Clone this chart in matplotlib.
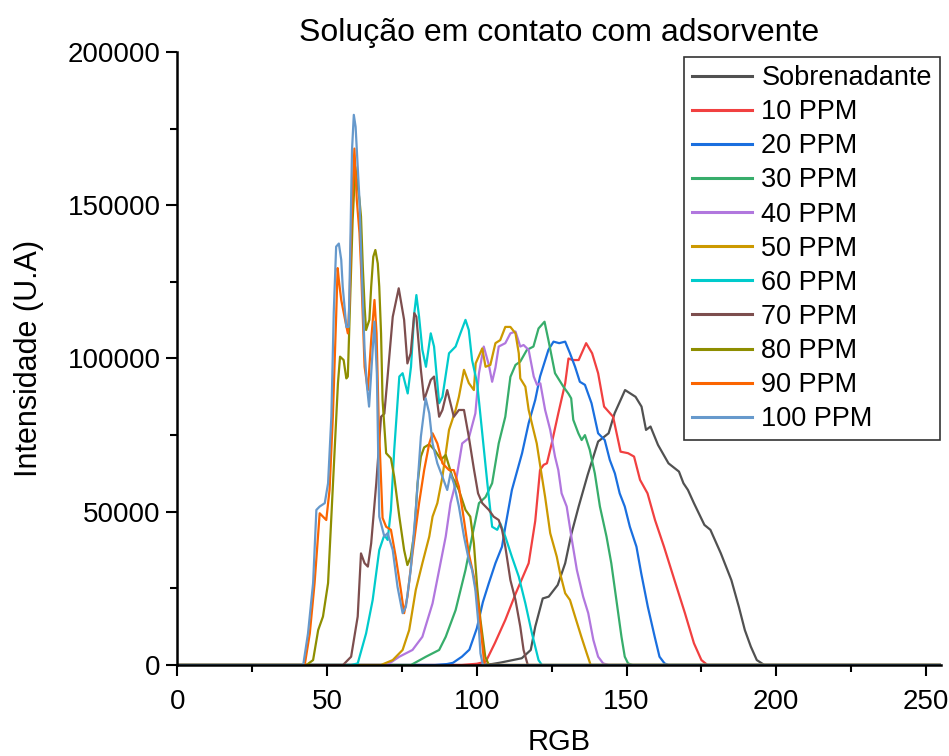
import matplotlib.pyplot as plt
from matplotlib.ticker import MultipleLocator

plt.rcParams['font.family'] = ['Liberation Sans', 'DejaVu Sans']

labels = ['Sobrenadante', '10 PPM', '20 PPM', '30 PPM', '40 PPM', '50 PPM',
          '60 PPM', '70 PPM', '80 PPM', '90 PPM', '100 PPM']
colors = ['#515151', '#F14040', '#1A6FDF', '#37AD6B', '#B177DE', '#CC9900',
          '#00CBCC', '#7D4E4E', '#8E8E00', '#FB6501', '#6699CC']

# RGB value vs intensity
sobre_x = [0, 100, 105, 108, 115, 118, 119.5, 122, 124, 127, 129.5, 131.5, 134, 137, 140.5, 144, 146, 149.5,
           153, 155, 156.5, 158, 160.5, 164, 167.5, 169, 170.5, 172.5, 176, 178, 181.5, 185, 187.5, 189.5,
           191.5, 193.5, 196, 255]
sobre_y = [0, 0, 300, 800, 2200, 4900, 12500, 21700, 22300, 26100, 33200, 42500, 51700, 62000, 72900, 75600,
           82100, 89700, 87500, 84300, 76700, 77800, 71800, 65800, 63100, 59300, 57100, 52800, 45700, 44100,
           36400, 27700, 19000, 11400, 6000, 1600, 0, 0]

p10_x = [0, 95, 100, 103, 106, 109.5, 113, 117.3, 119.5, 121.1, 122.3, 123.4, 125, 127.2, 129.5, 130.6, 132,
         134, 136.5, 138.5, 140.5, 142.5, 145.5, 148, 150.5, 152.5, 154.5, 157, 159.5, 162.5, 166, 169.5,
         172.5, 175, 177, 255]
p10_y = [0, 0, 400, 1100, 7100, 14700, 23400, 33200, 47000, 63600, 65300, 65800, 72300, 82100, 91900, 100000,
         99500, 99500, 105000, 101700, 95200, 84300, 81000, 69600, 69100, 68000, 60400, 56000, 47300, 38600,
         27700, 16900, 7100, 1600, 0, 0]

p20_x = [0, 86, 90, 92, 95, 97.5, 100, 102, 104, 106.2, 108.4, 109.5, 111.7, 115.1, 117.3, 119.5, 121.1,
         123.9, 125.6, 127.5, 129.5, 131.1, 132.8, 134.4, 136.1, 138.3, 140.5, 142.7, 144.4, 146.1, 147.7,
         149.4, 151.1, 153.3, 154.9, 157.1, 159.4, 161, 162.7, 164, 255]
p20_y = [0, 0, 300, 700, 2700, 5000, 12000, 20500, 26700, 33200, 38600, 45100, 57100, 69100, 78900, 86500,
         94100, 102800, 105500, 105000, 105500, 101700, 97300, 92400, 91400, 85400, 75600, 73400, 66900,
         62500, 56000, 51700, 45100, 38600, 29900, 19000, 9200, 2700, 500, 0, 0]

p30_x = [0, 78, 83, 87.4, 89.6, 92.9, 96.2, 98.4, 100.7, 102.9, 105.1, 107.3, 109.5, 111.2, 112.9, 114.5,
         116.7, 118.9, 120.6, 122.6, 123.9, 126.1, 128.9, 130.6, 131.5, 132.2, 133.9, 135, 136.1, 137.7,
         139.4, 141.1, 143.3, 144.9, 146.6, 148.3, 149.4, 150.5, 152, 255]
p30_y = [0, 0, 2700, 4900, 9200, 17900, 31000, 41900, 52800, 54800, 59300, 72300, 81000, 94000, 97900, 99000,
         102800, 103900, 109800, 112000, 106000, 95200, 90800, 88500, 87000, 80000, 75600, 73400, 75000,
         70200, 62500, 51700, 41900, 33200, 21200, 9200, 2700, 500, 0, 0]

p40_x = [0, 70, 74.1, 78.5, 81.8, 85.2, 87.4, 89.6, 91.2, 92.9, 95.1, 97.3, 99.5, 100.7, 102.3, 104, 105.1,
         106.2, 107.3, 109.5, 111.2, 112.9, 114.5, 115.6, 117.3, 119, 120.1, 121.2, 122.8, 124.5, 126.1,
         127.2, 128.3, 130, 131.7, 133.4, 135.5, 137.2, 138.9, 140.5, 142.2, 144, 255]
p40_y = [0, 0, 2700, 4900, 9200, 20100, 31000, 41900, 52800, 59300, 72300, 74000, 82100, 95200, 103900,
         97900, 92400, 97000, 103900, 105000, 108200, 108800, 103900, 104400, 102800, 94100, 91400, 91900,
         83200, 76700, 68000, 63600, 56000, 51700, 41000, 31000, 22300, 16900, 8200, 2700, 500, 0, 0]

p50_x = [0, 68, 71.9, 75.2, 77.4, 79.6, 81.8, 84.1, 85.2, 86.8, 88.5, 90.7, 92.9, 94, 95.7, 97.3, 99, 99.6,
         101.8, 102.9, 104.5, 106.2, 107.8, 109.5, 111.2, 112.9, 114, 114.5, 116.2, 117.3, 118.9, 120,
         121.2, 122.8, 124.5, 126.7, 127.8, 129.5, 131.1, 132.8, 134.9, 136.7, 138, 255]
p50_y = [0, 0, 1600, 4900, 11400, 24500, 33200, 41900, 48400, 52800, 61400, 76700, 83200, 87500, 96300,
         92000, 89700, 98400, 103300, 97300, 97900, 105000, 106000, 110300, 110300, 108200, 101700, 93500,
         90800, 83200, 76700, 72300, 64700, 54800, 43000, 35300, 29900, 23400, 21200, 15800, 9200, 3800, 0, 0]

p60_x = [0, 58, 60.2, 63, 65.2, 67.4, 69.1, 70.2, 71.3, 72.4, 74.1, 75.2, 76.9, 78, 79.1, 79.8, 80.7, 81.8,
         83, 84.6, 85.7, 87.4, 88.5, 90.7, 91.8, 92.9, 94.5, 96.2, 97.3, 98.4, 100.1, 101.8, 103.5, 105.1,
         106.8, 107.8, 109.5, 111.7, 114, 116.2, 118.4, 120.6, 121.7, 255]
p60_y = [0, 0, 500, 10300, 21200, 37500, 42400, 40800, 50600, 70200, 94100, 95200, 88600, 97300, 114800,
         120700, 113600, 102800, 97300, 108200, 103900, 85400, 87500, 101700, 102800, 103900, 108200,
         112600, 109300, 99500, 91900, 75600, 59300, 45100, 44100, 46200, 41900, 35300, 28800, 20100,
         10300, 1600, 0, 0]

p70_x = [0, 55.3, 58, 60.2, 61.3, 62.5, 63.6, 64.7, 66.4, 68, 69.1, 70, 71.9, 73.9, 75.7, 76.8, 77.9, 79.1,
         79.8, 81.3, 82.4, 84.6, 85.7, 87.4, 88.5, 90.1, 92.3, 94, 95.7, 97.3, 99, 100.4, 101.8, 104, 105.6,
         107.3, 108.4, 109.5, 111.2, 112.9, 114.5, 115.6, 117, 255]
p70_y = [0, 0, 2700, 15800, 36400, 33200, 32100, 39700, 59300, 81000, 82000, 92000, 113600, 122900, 112600,
         98400, 101700, 114800, 113600, 96300, 86500, 93000, 94100, 81000, 83200, 89700, 81000, 83200,
         83200, 74500, 64000, 56000, 52800, 50600, 48400, 47300, 44100, 38600, 27700, 21200, 12500, 4900,
         0, 0]

p80_x = [0, 43.1, 45.3, 47, 48.6, 50.3, 51.4, 52.5, 53.6, 54.3, 55.5, 56.4, 56.9, 57.5, 58.5, 59.4, 60.8,
         61.3, 61.9, 62.5, 63, 64.1, 64.7, 65.4, 66.1, 66.9, 67.4, 68, 68.5, 69.7, 71.3, 72.4, 74.1, 75.7,
         76.8, 77.9, 79.1, 80.2, 81.3, 82.4, 84.1, 86, 88, 89.6, 91.8, 94, 96.2, 97.8, 99, 100.1, 101.2,
         102.8, 104, 255]
p80_y = [0, 0, 1600, 11400, 15800, 26700, 48400, 70200, 91900, 100600, 99500, 93500, 94100, 113600, 145000,
         162500, 151700, 146300, 130000, 116900, 109300, 112600, 123400, 133200, 135400, 131000, 123400,
         108200, 86500, 69100, 67400, 61400, 48400, 37500, 32600, 35300, 43000, 59300, 68000, 71000, 72000,
         70000, 67000, 68500, 61400, 57100, 50600, 48400, 39700, 25500, 14700, 2700, 0, 0]

p90_x = [0, 42.5, 44.2, 45.8, 47.5, 48.6, 49.7, 50.8, 51.9, 53, 53.5, 53.9, 54.7, 55.8, 56.9, 57.5, 58, 58.6,
         59.1, 59.9, 60.8, 61.3, 61.9, 62.5, 63.6, 64.7, 65.8, 66.5, 67.2, 68.5, 69.7, 71.3, 72.9, 74.6,
         75.7, 76.8, 78.5, 80.7, 82.4, 84.1, 85.2, 86.8, 88.5, 90.7, 92.3, 94, 95.7, 97.3, 99, 100.7, 101.8,
         102.5, 255]
p90_y = [0, 0, 10300, 26700, 49500, 48400, 47300, 57100, 81000, 113600, 129500, 125600, 119100, 113600,
         108200, 119100, 140900, 157200, 168500, 151700, 140900, 130000, 113600, 97300, 89700, 106000,
         119100, 108200, 80000, 48000, 45100, 44100, 35300, 24500, 16900, 22300, 36400, 52800, 63600, 72300,
         75600, 72300, 65800, 63600, 63600, 58200, 47300, 36400, 28800, 17900, 7100, 0, 0]

p100_x = [0, 42, 43.6, 45.3, 46.4, 47.5, 49.2, 50.3, 51.4, 52.2, 53, 53.9, 54.7, 55.2, 55.8, 56.4, 57.2,
          57.6, 58, 58.3, 58.9, 59.5, 60.2, 60.8, 61.3, 61.9, 62.5, 63.2, 64, 65.8, 66.6, 67.4, 69.1, 70.2,
          71.9, 73.5, 75.2, 76.3, 77.9, 79.6, 81.3, 82.9, 84.1, 85.2, 86.8, 88.5, 90.1, 91.2, 92.3, 94, 95.7,
          97.3, 98.4, 99.5, 100.7, 101.2, 102, 255]
p100_y = [0, 0, 10300, 26700, 50600, 51700, 52800, 59300, 81000, 115000, 136500, 137500, 132200, 123400,
          116900, 110300, 110300, 130000, 151700, 168000, 179500, 175600, 162600, 151700, 135400, 119100,
          102800, 91900, 84300, 112000, 95000, 48400, 41900, 43000, 37500, 25500, 16900, 19000, 31000, 50600,
          74500, 87000, 82100, 72300, 65800, 61400, 57100, 62500, 59300, 51700, 41900, 34300, 31000, 24500,
          11400, 3800, 0, 0]

series = [(sobre_x, sobre_y), (p10_x, p10_y), (p20_x, p20_y), (p30_x, p30_y), (p40_x, p40_y),
          (p50_x, p50_y), (p60_x, p60_y), (p70_x, p70_y), (p80_x, p80_y), (p90_x, p90_y),
          (p100_x, p100_y)]

fig = plt.figure(figsize=(9.49, 7.56), dpi=100)
ax = fig.add_axes([0.187, 0.1204, 0.8045, 0.8108])

for (xs, ys), lab, col in zip(series, labels, colors):
    ax.plot(xs, ys, color=col, lw=1.6, label=lab)

ax.set_xlim(0, 255)
ax.set_ylim(0, 200000)
ax.xaxis.set_major_locator(MultipleLocator(50))
ax.xaxis.set_minor_locator(MultipleLocator(25))
ax.yaxis.set_major_locator(MultipleLocator(50000))
ax.yaxis.set_minor_locator(MultipleLocator(25000))
ax.tick_params(which='major', direction='out', length=8, width=1.5, labelsize=20)
ax.tick_params(which='minor', direction='out', length=5, width=1.5)
ax.tick_params(axis='x', which='major', pad=9)
ax.tick_params(axis='y', which='major', pad=4)
for side in ['top', 'right']:
    ax.spines[side].set_visible(False)
for side in ['left', 'bottom']:
    ax.spines[side].set_linewidth(1.8)

ax.set_xlabel('RGB', fontsize=21, labelpad=10)
ax.set_ylabel('Intensidade (U.A)', fontsize=22, labelpad=17)
ax.set_title('Solução em contato com adsorvente', fontsize=23, pad=8)

leg = ax.legend(loc='upper right', bbox_to_anchor=(0.9987, 0.992), borderaxespad=0, fontsize=19.5,
                frameon=True, fancybox=False, edgecolor='black', handlelength=2.2, handletextpad=0.35,
                labelspacing=0.3, borderpad=0.3)
leg.get_frame().set_linewidth(1.2)
for line in leg.get_lines():
    line.set_linewidth(2.2)

fig.savefig('out.png', dpi=100)
